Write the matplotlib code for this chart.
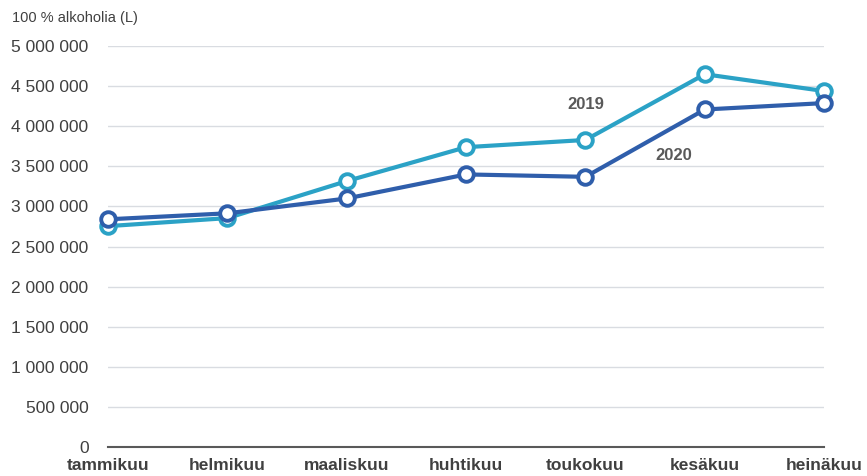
import matplotlib.pyplot as plt
from matplotlib.ticker import FuncFormatter

plt.rcParams['font.family'] = ['Liberation Sans', 'DejaVu Sans']

months = ["tammikuu", "helmikuu", "maaliskuu", "huhtikuu", "toukokuu", "kesäkuu", "heinäkuu"]
y2019 = [2755000, 2855000, 3317000, 3740000, 3830000, 4650000, 4440000]
y2020 = [2840000, 2915000, 3100000, 3400000, 3370000, 4210000, 4290000]

c2019 = "#2ba2c6"
c2020 = "#2f5eab"

fig = plt.figure(figsize=(8.67, 4.76), dpi=100)
ax = fig.add_axes([0.1246, 0.061, 0.826, 0.842])

x = range(len(months))
for vals, col in [(y2019, c2019), (y2020, c2020)]:
    ax.plot(x, vals, color=col, lw=3, marker="o", ms=10.5, mfc="white",
            mec=col, mew=2.8, zorder=3, clip_on=False)

ax.set_ylim(0, 5000000)
ax.set_yticks(range(0, 5000001, 500000))
ax.yaxis.set_major_formatter(FuncFormatter(lambda v, p: f"{int(v):,}".replace(",", " ")))
ax.set_xlim(0, 6.0)
ax.set_xticks(list(x))
ax.set_xticklabels(months, fontweight="bold", fontsize=12.5, color="#404040")
ax.tick_params(axis="y", length=0, labelsize=12.5, labelcolor="#404040", pad=14)
ax.tick_params(axis="x", length=0, pad=8)
ax.grid(axis="y", color="#d9dce1", lw=1)
ax.set_axisbelow(True)
for s in ["top", "right", "left"]:
    ax.spines[s].set_visible(False)
ax.spines["bottom"].set_color("#595959")
ax.spines["bottom"].set_linewidth(1.5)
ax.spines["bottom"].set_zorder(4)

ax.text(4, 4270000, "2019", fontsize=12, fontweight="bold", color="#595959", ha="center", va="center")
ax.text(4.74, 3630000, "2020", fontsize=12, fontweight="bold", color="#595959", ha="center", va="center")
fig.text(12 / 867, 1 - 18 / 476, "100 % alkoholia (L)", fontsize=10.5, color="#404040", va="center")

fig.savefig("out.png", dpi=100)
